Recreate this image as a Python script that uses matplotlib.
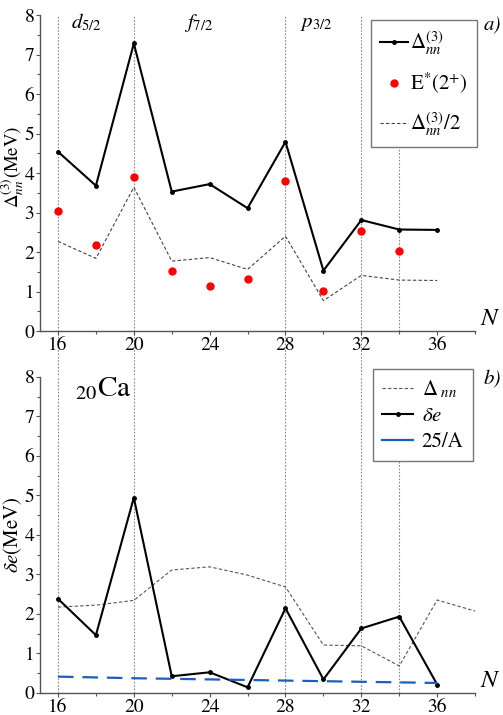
import numpy as np
import matplotlib
matplotlib.use('Agg')
import matplotlib.pyplot as plt

plt.rcParams['font.family'] = ['STIXGeneral', 'Liberation Serif', 'DejaVu Serif']
plt.rcParams['mathtext.fontset'] = 'stix'

# data
N = [16, 18, 20, 22, 24, 26, 28, 30, 32, 34, 36]
delta3 = [4.54, 3.68, 7.28, 3.53, 3.72, 3.11, 4.79, 1.53, 2.81, 2.57, 2.56]
delta3_half = [2.27, 1.84, 3.64, 1.77, 1.86, 1.56, 2.40, 0.77, 1.41, 1.29, 1.28]
N_e2 = [16, 18, 20, 22, 24, 26, 28, 30, 32, 34]
e2plus = [3.03, 2.19, 3.89, 1.51, 1.14, 1.33, 3.81, 1.01, 2.52, 2.03]

N_dnn = [16, 18, 20, 22, 24, 26, 28, 30, 32, 34, 36, 38]
delta_nn = [2.17, 2.22, 2.34, 3.11, 3.19, 2.98, 2.68, 1.21, 1.19, 0.68, 2.35, 2.07]
delta_e = [2.38, 1.46, 4.94, 0.42, 0.52, 0.14, 2.14, 0.34, 1.63, 1.93, 0.21]
N_a = [16, 20, 24, 28, 32, 36]
a_term = [0.41, 0.37, 0.34, 0.31, 0.28, 0.25]

shell_lines = [16, 20, 28, 32]
shells = [(17.5, r'$d_{5/2}$'), (23.4, r'$f_{7/2}$'), (29.6, r'$p_{3/2}$')]

fig = plt.figure(figsize=(5.03, 7.15), dpi=100)
ax1 = fig.add_axes([0.0795, 0.537, 0.865, 0.442])
ax2 = fig.add_axes([0.0795, 0.031, 0.865, 0.442])

spine_col = '#555555'
for ax in (ax1, ax2):
    ax.set_xlim(15.05, 38.0)
    ax.set_ylim(0, 8)
    for s in ('top', 'right'):
        ax.spines[s].set_visible(False)
    for s in ('left', 'bottom'):
        ax.spines[s].set_color(spine_col)
        ax.spines[s].set_linewidth(1.0)
    ax.set_xticks(np.arange(16, 37, 4))
    ax.set_xticks(np.arange(18, 39, 4), minor=True)
    ax.set_yticks(np.arange(0, 9, 1))
    ax.set_yticks(np.arange(0.5, 8, 1), minor=True)
    ax.tick_params(which='major', length=3, width=0.8, color=spine_col,
                   labelsize=14, pad=1)
    ax.tick_params(which='minor', length=2, width=0.8, color=spine_col)
    ax.text(1.012, 0.0, r'$N$', transform=ax.transAxes, fontsize=18,
            ha='left', va='bottom')

# vertical dotted guide lines
for x in shell_lines:
    ax1.axvline(x, ymin=-0.15, ymax=1.0, color='#888888', lw=0.8,
                ls=(0, (1.5, 1.5)), clip_on=False, zorder=0)
    ax2.axvline(x, ymin=0, ymax=1.0, color='#888888', lw=0.8,
                ls=(0, (1.5, 1.5)), zorder=0)
ax1.axvline(34, ymin=0, ymax=0.595, color='#888888', lw=0.8,
            ls=(0, (1.5, 1.5)), zorder=0)
ax2.axvline(34, ymin=0, ymax=0.774, color='#888888', lw=0.8,
            ls=(0, (1.5, 1.5)), zorder=0)

# panel a
ax1.plot(N, delta3, color='black', lw=1.5, marker='o', ms=2.5,
         label=r'$\Delta_{nn}^{(3)}$')
ax1.plot(N_e2, e2plus, ls='none', marker='o', ms=5, color='red',
         label=r'E$^{*}$(2$^{+}$)')
ax1.plot(N, delta3_half, color='#444444', lw=0.8, ls=(0, (3, 2)),
         label=r'$\Delta_{nn}^{(3)}/2$')
for x, s in shells:
    ax1.text(x, 7.8, s, fontsize=15, ha='center', va='center')
ax1.set_ylabel(r'$\Delta_{nn}^{(3)}$(MeV)', fontsize=13.5)
ax1.yaxis.set_label_coords(-0.033, 0.52)
ax1.text(1.02, 0.968, 'a)', transform=ax1.transAxes, fontsize=15,
         style='italic', ha='left', va='center', zorder=10)
leg1 = ax1.legend(loc='upper left', bbox_to_anchor=(0.761, 0.984),
                  borderaxespad=0, fontsize=15, handlelength=1.3,
                  handletextpad=0.1, labelspacing=0.7, fancybox=False,
                  edgecolor='#777777', framealpha=1, borderpad=0.45)
leg1.get_frame().set_linewidth(1.0)

# panel b
ax2.plot(N_dnn, delta_nn, color='#555555', lw=0.8, ls=(0, (3, 2)),
         label=r'$\Delta_{\ nn}$', clip_on=False)
ax2.plot(N, delta_e, color='black', lw=1.5, marker='o', ms=2.5,
         label=r'$\delta e$')
ax2.plot(N_a, a_term, color='#1c5fb8', lw=1.6, dashes=(7, 4),
         label='25/A')
ax2.text(16.9, 7.7, r'$_{20}$Ca', fontsize=21, ha='left', va='center')
ax2.set_ylabel(r'$\delta e$(MeV)', fontsize=15)
ax2.yaxis.set_label_coords(-0.036, 0.5)
ax2.text(1.02, 0.993, 'b)', transform=ax2.transAxes, fontsize=15,
         style='italic', ha='left', va='center', zorder=10)
leg2 = ax2.legend(loc='upper left', bbox_to_anchor=(0.765, 1.025),
                  borderaxespad=0, fontsize=15, handlelength=1.5,
                  handletextpad=0.4, labelspacing=0.3, fancybox=False,
                  edgecolor='#777777', framealpha=1, borderpad=0.45)
leg2.get_frame().set_linewidth(1.0)
for h in leg2.get_lines():
    if h.get_label() == '25/A':
        h.set_linestyle('-')

fig.savefig('out.png', dpi=100)
